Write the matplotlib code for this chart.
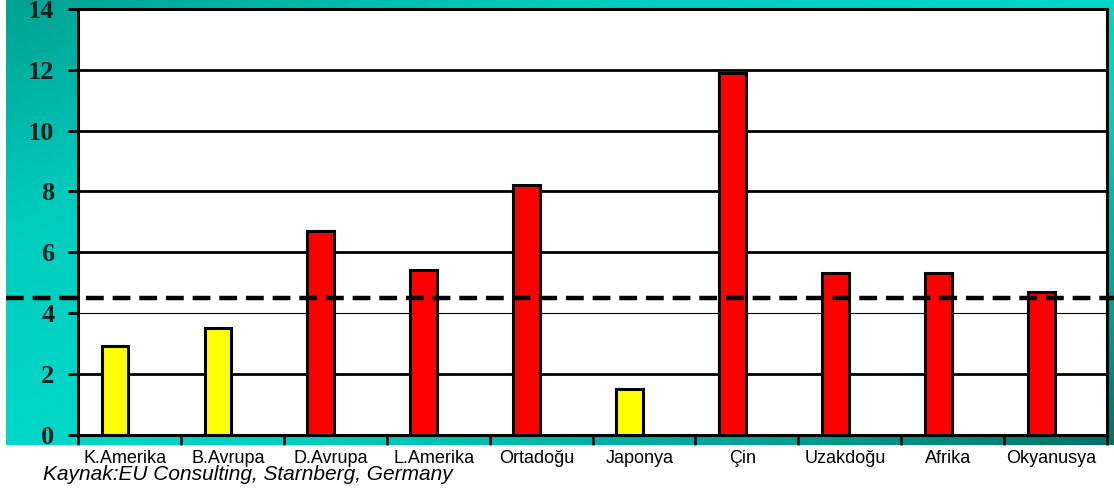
import numpy as np
import matplotlib
matplotlib.use("Agg")
import matplotlib.pyplot as plt
from matplotlib.colors import LinearSegmentedColormap

# ---- data ----
categories = ["K.Amerika", "B.Avrupa", "D.Avrupa", "L.Amerika", "Ortadoğu",
              "Japonya", "Çin", "Uzakdoğu", "Afrika", "Okyanusya"]
values = [2.9, 3.5, 6.7, 5.4, 8.2, 1.5, 11.9, 5.3, 5.3, 4.7]
bar_colors = ["#ffff00", "#ffff00", "#ff0000", "#ff0000", "#ff0000",
              "#ffff00", "#ff0000", "#ff0000", "#ff0000", "#ff0000"]
average = 4.5
yticks = [0, 2, 4, 6, 8, 10, 12, 14]
caption = "Kaynak:EU Consulting, Starnberg, Germany"

W, H = 1114, 499
fig = plt.figure(figsize=(W / 100, H / 100), dpi=100)
fig.patch.set_facecolor("white")

# ---- gradient background ----
bg = fig.add_axes([6 / W, 1 - 445 / H, (W - 6) / W, 445 / H], zorder=0)
u = np.linspace(0, 1, 400)
v = np.linspace(0, 1, 200)
U, V = np.meshgrid(u, v)
T = (U + V) / 2
cmap = LinearSegmentedColormap.from_list(
    "teal", [(0.0, "#00a292"), (0.25, "#00ccbc"), (0.5, "#00d8c8"),
             (0.62, "#00d0c0"), (0.85, "#00a090"), (1.0, "#007262")])
bg.imshow(T, cmap=cmap, aspect="auto", extent=[0, 1, 0, 1], origin="upper")
bg.set_axis_off()

# ---- main axes ----
x0, x1 = 78, 1107
ytop, ybot = 9, 434.5
ax = fig.add_axes([x0 / W, 1 - ybot / H, (x1 - x0) / W, (ybot - ytop) / H], zorder=1)
ax.set_facecolor("white")
n = len(categories)
xpos = np.arange(n)
ax.set_xlim(-0.5, n - 0.5)
ax.set_ylim(0, 14)

ax.set_axisbelow(True)
ax.bar(xpos - 0.14, values, width=0.26, color=bar_colors,
       edgecolor="black", linewidth=2.2, zorder=3)

# grid lines
for yv in yticks[1:]:
    ax.axhline(yv, color="black", lw=0.8 if yv == 4 else 2.0, zorder=1)

# average dashed line
ax.plot([-0.07, 1.0068], [average, average], transform=ax.get_yaxis_transform(),
        color="black", lw=3.2, linestyle=(0, (4, 2)), clip_on=False, zorder=6,
        solid_capstyle="butt", dash_capstyle="butt")

for s in ax.spines.values():
    s.set_linewidth(2.2)
    s.set_color("black")

ax.set_yticks(yticks)
ax.set_yticklabels([str(t) for t in yticks], fontfamily="Liberation Serif",
                   fontweight="bold", fontsize=19, color="#0f2020")
ax.tick_params(axis="y", direction="out", length=7, width=2, pad=10, color="black")

ax.set_xticks(np.arange(n + 1) - 0.5)
ax.set_xticklabels([])
ax.tick_params(axis="x", which="major", direction="out", length=7.5, width=1.8, color="black")
ax.set_xticks(xpos - 0.04, minor=True)
ax.set_xticklabels(categories, minor=True,
                   fontfamily=["Liberation Sans Narrow", "Liberation Sans", "DejaVu Sans"],
                   fontsize=13, color="black")
ax.tick_params(axis="x", which="minor", length=0, pad=11)

fig.text(43 / W, 1 - 480 / H, caption, fontfamily="Liberation Sans",
         style="italic", fontsize=15, va="baseline", ha="left", color="black")

fig.savefig("out.png", dpi=100, facecolor="white")
